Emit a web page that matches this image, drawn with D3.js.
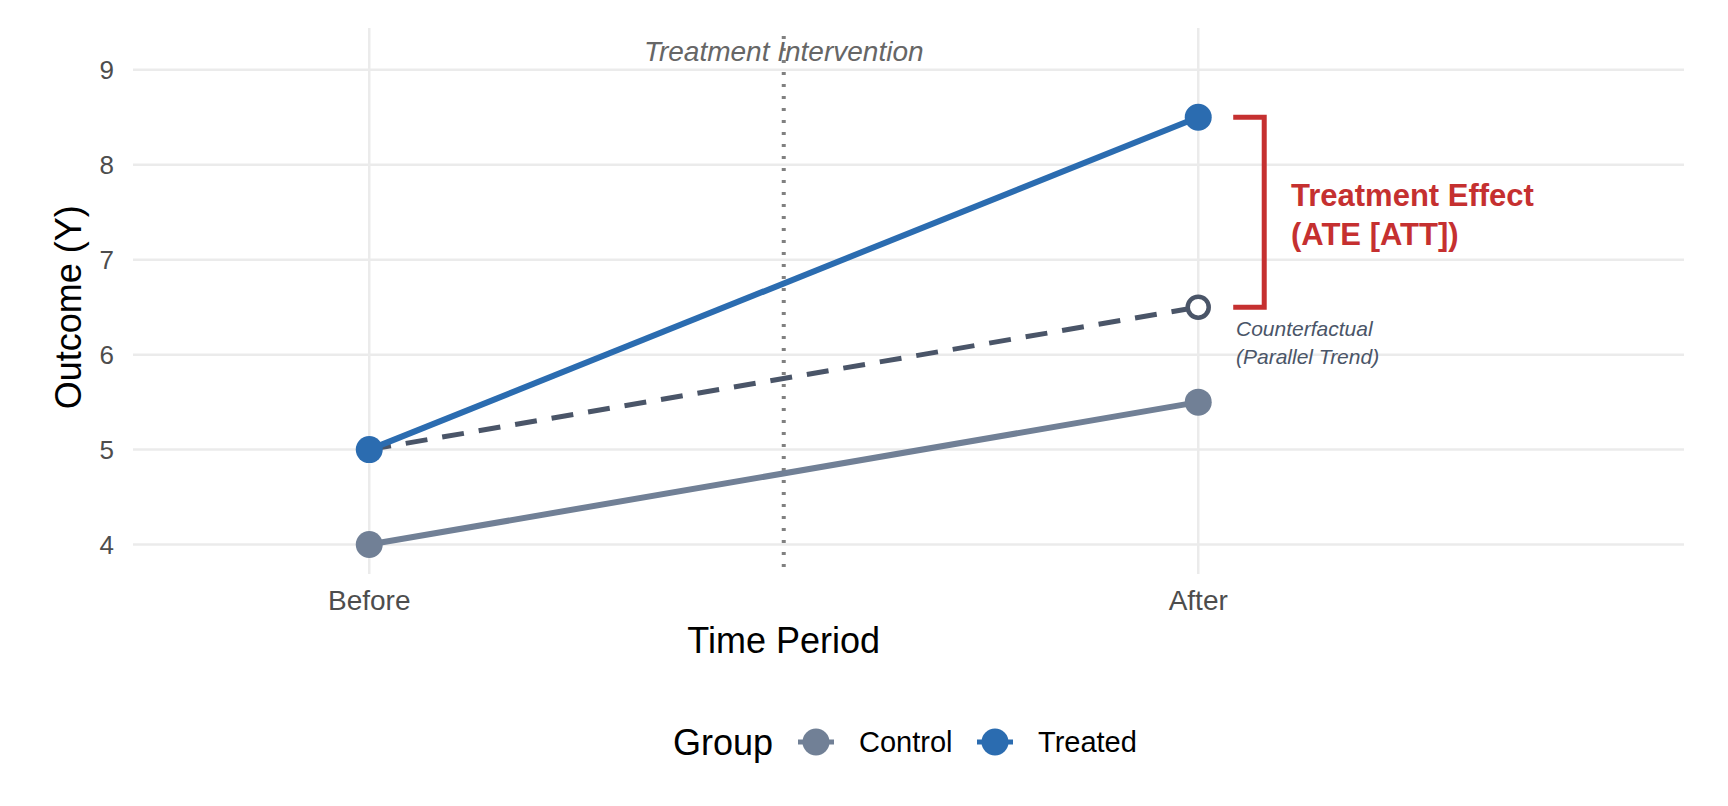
<!DOCTYPE html>
<html><head><meta charset="utf-8">
<script src="https://cdn.jsdelivr.net/npm/d3@7"></script>
<style>body{margin:0;background:#fff}text{font-family:"Liberation Sans",Arial,sans-serif}</style>
</head><body>
<script>
// data
const periods = ["Before", "After"]
const periodPos = [1, 2]
const control = [4, 5.5]
const treated = [5, 8.5]
const counterfactual = [5, 6.5]
const yTicks = [4, 5, 6, 7, 8, 9]
const groups = ["Control", "Treated"]
const colors = {Control: "#718096", Treated: "#2b6cb0", cf: "#4a5568", effect: "#c53030"}

const W = 1728, H = 806
const svg = d3.select("body").append("svg").attr("width", W).attr("height", H)

const x = d3.scaleLinear().domain([0.715, 2.586]).range([133, 1684])
const y = d3.scaleLinear().domain([3.69, 9.44]).range([574, 28])

// grid
svg.append("g").selectAll("line").data(yTicks).enter().append("line")
    .attr("x1", x.range()[0]).attr("x2", x.range()[1])
    .attr("y1", d => y(d)).attr("y2", d => y(d))
    .style("stroke", "#ebebeb").style("stroke-width", 2.5)
svg.append("g").selectAll("line").data(periodPos).enter().append("line")
    .attr("x1", d => x(d)).attr("x2", d => x(d))
    .attr("y1", y.range()[0]).attr("y2", y.range()[1])
    .style("stroke", "#ebebeb").style("stroke-width", 2.5)

// axes labels
svg.append("g").selectAll("text").data(yTicks).enter().append("text")
    .attr("x", 114).attr("y", d => y(d) + 9).attr("text-anchor", "end")
    .style("font-size", "26px").style("fill", "#4d4d4d").text(d => d)
svg.append("g").selectAll("text").data(periods).enter().append("text")
    .attr("x", (d, i) => x(periodPos[i])).attr("y", 610).attr("text-anchor", "middle")
    .style("font-size", "28px").style("fill", "#4d4d4d").text(d => d)
svg.append("text").attr("x", x(1.5)).attr("y", 653).attr("text-anchor", "middle")
    .style("font-size", "36px").text("Time Period")
svg.append("text").attr("transform", `translate(81,${y(6.5)}) rotate(-90)`).attr("text-anchor", "middle")
    .style("font-size", "36px").text("Outcome (Y)")

// intervention line
svg.append("line").attr("x1", x(1.5)).attr("x2", x(1.5)).attr("y1", 36).attr("y2", 574)
    .style("stroke", "#808080").style("stroke-width", 4).style("stroke-dasharray", "3,9")
svg.append("text").attr("x", x(1.5)).attr("y", 61).attr("text-anchor", "middle")
    .style("font-size", "28px").style("font-style", "italic").style("fill", "#666").text("Treatment Intervention")

const line = d3.line().x((d, i) => x(periodPos[i])).y(d => y(d))

// counterfactual
svg.append("path").attr("d", line(counterfactual)).style("fill", "none")
    .style("stroke", colors.cf).style("stroke-width", 5).style("stroke-dasharray", "22,15")
svg.append("path").attr("d", line(control)).style("fill", "none")
    .style("stroke", colors.Control).style("stroke-width", 6)
svg.append("path").attr("d", line(treated)).style("fill", "none")
    .style("stroke", colors.Treated).style("stroke-width", 6)

svg.append("circle").attr("cx", x(2)).attr("cy", y(counterfactual[1])).attr("r", 10.5)
    .style("fill", "#fff").style("stroke", colors.cf).style("stroke-width", 4.5)
control.forEach((v, i) => svg.append("circle").attr("cx", x(periodPos[i])).attr("cy", y(v)).attr("r", 13.5).style("fill", colors.Control))
treated.forEach((v, i) => svg.append("circle").attr("cx", x(periodPos[i])).attr("cy", y(v)).attr("r", 13.5).style("fill", colors.Treated))

// bracket
const bx0 = x(2) + 35, bx1 = x(2) + 66
svg.append("path")
    .attr("d", `M${bx0},${y(treated[1])}H${bx1}V${y(counterfactual[1])}H${bx0}`)
    .style("fill", "none").style("stroke", colors.effect).style("stroke-width", 5)
svg.append("text").attr("x", 1291).attr("y", 206).style("font-size", "31px").style("font-weight", "bold")
    .style("fill", colors.effect).text("Treatment Effect")
svg.append("text").attr("x", 1291).attr("y", 245).style("font-size", "31px").style("font-weight", "bold")
    .style("fill", colors.effect).text("(ATE [ATT])")
svg.append("text").attr("x", 1236).attr("y", 336).style("font-size", "21px").style("font-style", "italic")
    .style("fill", colors.cf).text("Counterfactual")
svg.append("text").attr("x", 1236).attr("y", 364).style("font-size", "21px").style("font-style", "italic")
    .style("fill", colors.cf).text("(Parallel Trend)")

// legend
svg.append("text").attr("x", 673).attr("y", 755).style("font-size", "36px").text("Group")
const keyX = [816, 995]
groups.forEach((g, i) => {
    svg.append("line").attr("x1", keyX[i] - 18).attr("x2", keyX[i] + 18).attr("y1", 742).attr("y2", 742)
        .style("stroke", colors[g]).style("stroke-width", 5)
    svg.append("circle").attr("cx", keyX[i]).attr("cy", 742).attr("r", 13.5).style("fill", colors[g])
    svg.append("text").attr("x", keyX[i] + 43).attr("y", 752).style("font-size", "29px").text(g)
})
</script>
</body></html>
